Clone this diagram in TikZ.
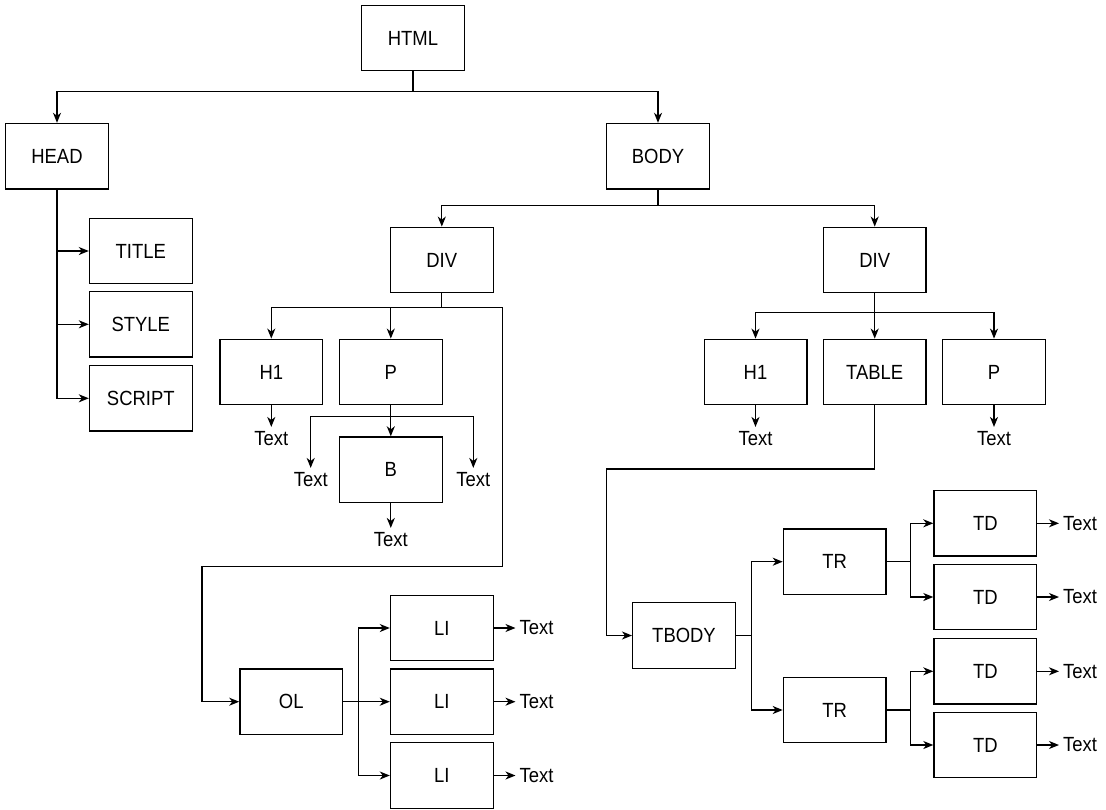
\documentclass[tikz,border=0pt]{standalone}
\usepackage{fontspec}
\setmainfont{Liberation Sans}[FakeStretch=0.9]
\usetikzlibrary{arrows.meta}
\begin{document}
\begin{tikzpicture}[x=1pt,y=-1pt,
  box/.style={draw, line width=1.3pt, minimum width=102.7pt, minimum height=65.5pt, inner sep=0pt, font=\fontsize{20.5}{22}\selectfont},
  txt/.style={inner sep=4pt, font=\fontsize{20.5}{22}\selectfont},
  arr/.style={line width=1.3pt, -{Stealth[length=10pt,width=8pt,inset=3pt]}},
  ln/.style={line width=1.3pt}]
\path[use as bounding box] (0,0) rectangle (1106,809);
% boxes
\node[box] (html) at (413,38) {HTML};
\node[box] (head) at (57,156.2) {HEAD};
\node[box] (body) at (658,156.2) {BODY};
\node[box] (title) at (140.8,251) {TITLE};
\node[box] (style) at (140.8,324.3) {STYLE};
\node[box] (script) at (140.8,398.3) {SCRIPT};
\node[box] (divL) at (441.8,260) {DIV};
\node[box] (h1L) at (271.3,372) {H1};
\node[box] (pL) at (390.8,372) {P};
\node[box] (b) at (390.8,469.7) {B};
\node[box] (divR) at (874.7,260) {DIV};
\node[box] (h1R) at (755.5,372) {H1};
\node[box] (table) at (874.7,372) {TABLE};
\node[box] (pR) at (994,372) {P};
\node[box] (ol) at (291.2,701.7) {OL};
\node[box] (li1) at (441.8,628) {LI};
\node[box] (li2) at (441.8,701.7) {LI};
\node[box] (li3) at (441.8,775.5) {LI};
\node[box] (tbody) at (684,635.5) {TBODY};
\node[box] (tr1) at (834.7,561.7) {TR};
\node[box] (tr2) at (834.7,710) {TR};
\node[box] (td1) at (985.3,523.3) {TD};
\node[box] (td2) at (985.3,597) {TD};
\node[box] (td3) at (985.3,671.3) {TD};
\node[box] (td4) at (985.3,745) {TD};
% text leaves
\node[txt] (th1L) at (271.3,438.3) {Text};
\node[txt] (tpL1) at (310.7,479.3) {Text};
\node[txt] (tpL2) at (473.3,479.3) {Text};
\node[txt] (tb) at (390.8,539.3) {Text};
\node[txt] (th1R) at (755.5,438.3) {Text};
\node[txt] (tpR) at (994,438.3) {Text};
\node[txt, anchor=west] (tli1) at (515.5,628) {Text};
\node[txt, anchor=west] (tli2) at (515.5,701.7) {Text};
\node[txt, anchor=west] (tli3) at (515.5,775.5) {Text};
\node[txt, anchor=west] (ttd1) at (1059,523.3) {Text};
\node[txt, anchor=west] (ttd2) at (1059,597) {Text};
\node[txt, anchor=west] (ttd3) at (1059,671.3) {Text};
\node[txt, anchor=west] (ttd4) at (1059,745) {Text};
% routing coordinates
\coordinate (r1) at (502.3,566.7);
\coordinate (r2) at (202,566.7);
\coordinate (c1) at (606.3,469);
% connectors
\draw[arr] (html.south) -- ++(0,20) -| (head.north);
\draw[arr] (html.south) -- ++(0,20) -| (body.north);
\draw[arr] (head.south) |- (title.west);
\draw[arr] (head.south) |- (style.west);
\draw[arr] (head.south) |- (script.west);
\draw[arr] (body.south) -- ++(0,16) -| (divL.north);
\draw[arr] (body.south) -- ++(0,16) -| (divR.north);
\draw[arr] (divL.south) -- ++(0,14) -| (h1L.north);
\draw[arr] (divL.south) -- ++(0,14) -| (pL.north);
\draw[arr] (divL.south) -- ++(0,14) -| (r1) -- (r2) |- (ol.west);
\draw[arr] (h1L.south) -- (th1L.north);
\draw[arr] (pL.south) -- ++(0,11) -| (tpL1.north);
\draw[arr] (pL.south) -- ++(0,11) -| (tpL2.north);
\draw[arr] (pL.south) -- (b.north);
\draw[arr] (b.south) -- (tb.north);
\draw[arr] (divR.south) -- ++(0,19) -| (h1R.north);
\draw[arr] (divR.south) -- ++(0,19) -| (pR.north);
\draw[arr] (divR.south) -- (table.north);
\draw[arr] (h1R.south) -- (th1R.north);
\draw[arr] (pR.south) -- (tpR.north);
\draw[arr] (table.south) |- (c1) |- (tbody.west);
\draw[arr] (tbody.east) -- ++(15.7,0) |- (tr1.west);
\draw[arr] (tbody.east) -- ++(15.7,0) |- (tr2.west);
\draw[arr] (tr1.east) -- ++(24,0) |- (td1.west);
\draw[arr] (tr1.east) -- ++(24,0) |- (td2.west);
\draw[arr] (tr2.east) -- ++(24,0) |- (td3.west);
\draw[arr] (tr2.east) -- ++(24,0) |- (td4.west);
\draw[arr] (ol.east) -- ++(15.6,0) |- (li1.west);
\draw[arr] (ol.east) -- (li2.west);
\draw[arr] (ol.east) -- ++(15.6,0) |- (li3.west);
\draw[arr] (li1.east) -- (tli1.west);
\draw[arr] (li2.east) -- (tli2.west);
\draw[arr] (li3.east) -- (tli3.west);
\draw[arr] (td1.east) -- (ttd1.west);
\draw[arr] (td2.east) -- (ttd2.west);
\draw[arr] (td3.east) -- (ttd3.west);
\draw[arr] (td4.east) -- (ttd4.west);
\end{tikzpicture}
\end{document}
